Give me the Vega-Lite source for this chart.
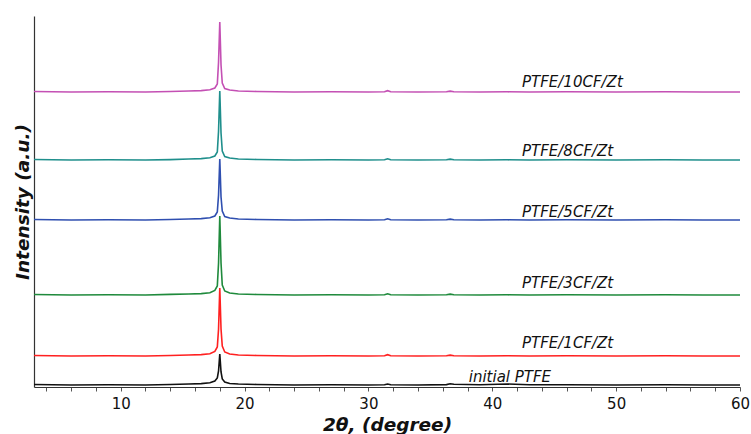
{
  "$schema": "https://vega.github.io/schema/vega-lite/v6.json",
  "width": 706,
  "height": 371,
  "autosize": {"type": "none"},
  "padding": {"left": 34, "top": 16, "right": 11, "bottom": 47},
  "background": "white",
  "config": {
    "view": {"stroke": null},
    "font": "DejaVu Sans"
  },
  "layer": [
    {
      "data": {
        "values": [
          {"t": 3, "initial PTFE": 2.5, "PTFE/1CF/Zt": 31.5, "PTFE/3CF/Zt": 92.5, "PTFE/5CF/Zt": 167.5, "PTFE/8CF/Zt": 227.5, "PTFE/10CF/Zt": 295.5},
          {"t": 6, "initial PTFE": 2, "PTFE/1CF/Zt": 31, "PTFE/3CF/Zt": 92, "PTFE/5CF/Zt": 167, "PTFE/8CF/Zt": 227, "PTFE/10CF/Zt": 295},
          {"t": 9, "initial PTFE": 2.3, "PTFE/1CF/Zt": 31.3, "PTFE/3CF/Zt": 92.2, "PTFE/5CF/Zt": 167.3, "PTFE/8CF/Zt": 227.2, "PTFE/10CF/Zt": 295.3},
          {"t": 12, "initial PTFE": 2, "PTFE/1CF/Zt": 31, "PTFE/3CF/Zt": 92, "PTFE/5CF/Zt": 167, "PTFE/8CF/Zt": 227, "PTFE/10CF/Zt": 295},
          {"t": 14, "initial PTFE": 2.5, "PTFE/1CF/Zt": 31.5, "PTFE/3CF/Zt": 92.6, "PTFE/5CF/Zt": 167.5, "PTFE/8CF/Zt": 227.4, "PTFE/10CF/Zt": 295.5},
          {"t": 15.5, "initial PTFE": 3, "PTFE/1CF/Zt": 32, "PTFE/3CF/Zt": 93, "PTFE/5CF/Zt": 168, "PTFE/8CF/Zt": 228, "PTFE/10CF/Zt": 296},
          {"t": 16.5, "initial PTFE": 3.4, "PTFE/1CF/Zt": 32.4, "PTFE/3CF/Zt": 93.4, "PTFE/5CF/Zt": 168.4, "PTFE/8CF/Zt": 228.4, "PTFE/10CF/Zt": 296.4},
          {"t": 17.2, "initial PTFE": 4.2, "PTFE/1CF/Zt": 33.2, "PTFE/3CF/Zt": 94.2, "PTFE/5CF/Zt": 169.2, "PTFE/8CF/Zt": 229.2, "PTFE/10CF/Zt": 297.2},
          {"t": 17.6, "initial PTFE": 6, "PTFE/1CF/Zt": 35.5, "PTFE/3CF/Zt": 96.5, "PTFE/5CF/Zt": 171, "PTFE/8CF/Zt": 231, "PTFE/10CF/Zt": 299},
          {"t": 17.8, "initial PTFE": 9, "PTFE/1CF/Zt": 40, "PTFE/3CF/Zt": 101, "PTFE/5CF/Zt": 175, "PTFE/8CF/Zt": 235, "PTFE/10CF/Zt": 303},
          {"t": 17.9, "initial PTFE": 16, "PTFE/1CF/Zt": 58, "PTFE/3CF/Zt": 124, "PTFE/5CF/Zt": 192, "PTFE/8CF/Zt": 256, "PTFE/10CF/Zt": 325},
          {"t": 18.0, "initial PTFE": 33, "PTFE/1CF/Zt": 99, "PTFE/3CF/Zt": 171, "PTFE/5CF/Zt": 228, "PTFE/8CF/Zt": 296, "PTFE/10CF/Zt": 365},
          {"t": 18.1, "initial PTFE": 15, "PTFE/1CF/Zt": 58, "PTFE/3CF/Zt": 124, "PTFE/5CF/Zt": 190, "PTFE/8CF/Zt": 254, "PTFE/10CF/Zt": 322},
          {"t": 18.2, "initial PTFE": 8, "PTFE/1CF/Zt": 41, "PTFE/3CF/Zt": 102, "PTFE/5CF/Zt": 176, "PTFE/8CF/Zt": 236, "PTFE/10CF/Zt": 304},
          {"t": 18.4, "initial PTFE": 5, "PTFE/1CF/Zt": 35, "PTFE/3CF/Zt": 96, "PTFE/5CF/Zt": 170.5, "PTFE/8CF/Zt": 230.5, "PTFE/10CF/Zt": 298.5},
          {"t": 18.8, "initial PTFE": 3.5, "PTFE/1CF/Zt": 33, "PTFE/3CF/Zt": 94, "PTFE/5CF/Zt": 169, "PTFE/8CF/Zt": 229, "PTFE/10CF/Zt": 297},
          {"t": 19.5, "initial PTFE": 3, "PTFE/1CF/Zt": 32, "PTFE/3CF/Zt": 93, "PTFE/5CF/Zt": 168, "PTFE/8CF/Zt": 228, "PTFE/10CF/Zt": 296},
          {"t": 21, "initial PTFE": 2.5, "PTFE/1CF/Zt": 31.5, "PTFE/3CF/Zt": 92.5, "PTFE/5CF/Zt": 167.5, "PTFE/8CF/Zt": 227.5, "PTFE/10CF/Zt": 295.5},
          {"t": 24, "initial PTFE": 2, "PTFE/1CF/Zt": 31, "PTFE/3CF/Zt": 92, "PTFE/5CF/Zt": 167, "PTFE/8CF/Zt": 227, "PTFE/10CF/Zt": 295},
          {"t": 27, "initial PTFE": 2.3, "PTFE/1CF/Zt": 31.3, "PTFE/3CF/Zt": 92.3, "PTFE/5CF/Zt": 167.3, "PTFE/8CF/Zt": 227.3, "PTFE/10CF/Zt": 295.3},
          {"t": 30, "initial PTFE": 2, "PTFE/1CF/Zt": 31, "PTFE/3CF/Zt": 92, "PTFE/5CF/Zt": 167, "PTFE/8CF/Zt": 227, "PTFE/10CF/Zt": 295},
          {"t": 31.3, "initial PTFE": 2.2, "PTFE/1CF/Zt": 31.2, "PTFE/3CF/Zt": 92.2, "PTFE/5CF/Zt": 167.2, "PTFE/8CF/Zt": 227.2, "PTFE/10CF/Zt": 295.2},
          {"t": 31.55, "initial PTFE": 3, "PTFE/1CF/Zt": 32.3, "PTFE/3CF/Zt": 93.2, "PTFE/5CF/Zt": 168.2, "PTFE/8CF/Zt": 228.2, "PTFE/10CF/Zt": 296.3},
          {"t": 31.8, "initial PTFE": 2.2, "PTFE/1CF/Zt": 31.2, "PTFE/3CF/Zt": 92.2, "PTFE/5CF/Zt": 167.2, "PTFE/8CF/Zt": 227.2, "PTFE/10CF/Zt": 295.2},
          {"t": 34, "initial PTFE": 2, "PTFE/1CF/Zt": 31, "PTFE/3CF/Zt": 92, "PTFE/5CF/Zt": 167, "PTFE/8CF/Zt": 227, "PTFE/10CF/Zt": 295},
          {"t": 36.3, "initial PTFE": 2.4, "PTFE/1CF/Zt": 31.3, "PTFE/3CF/Zt": 92.3, "PTFE/5CF/Zt": 167.3, "PTFE/8CF/Zt": 227.3, "PTFE/10CF/Zt": 295.3},
          {"t": 36.6, "initial PTFE": 3.2, "PTFE/1CF/Zt": 31.9, "PTFE/3CF/Zt": 92.9, "PTFE/5CF/Zt": 167.9, "PTFE/8CF/Zt": 227.9, "PTFE/10CF/Zt": 295.9},
          {"t": 36.9, "initial PTFE": 2.8, "PTFE/1CF/Zt": 31.3, "PTFE/3CF/Zt": 92.3, "PTFE/5CF/Zt": 167.3, "PTFE/8CF/Zt": 227.3, "PTFE/10CF/Zt": 295.3},
          {"t": 39, "initial PTFE": 2.3, "PTFE/1CF/Zt": 31, "PTFE/3CF/Zt": 92, "PTFE/5CF/Zt": 167, "PTFE/8CF/Zt": 227, "PTFE/10CF/Zt": 295},
          {"t": 41.2, "initial PTFE": 3, "PTFE/1CF/Zt": 31.3, "PTFE/3CF/Zt": 92.2, "PTFE/5CF/Zt": 167.2, "PTFE/8CF/Zt": 227.2, "PTFE/10CF/Zt": 295.2},
          {"t": 43, "initial PTFE": 2.2, "PTFE/1CF/Zt": 31, "PTFE/3CF/Zt": 92, "PTFE/5CF/Zt": 167, "PTFE/8CF/Zt": 227, "PTFE/10CF/Zt": 295},
          {"t": 46, "initial PTFE": 2.3, "PTFE/1CF/Zt": 31.3, "PTFE/3CF/Zt": 92.3, "PTFE/5CF/Zt": 167.2, "PTFE/8CF/Zt": 227.3, "PTFE/10CF/Zt": 295.2},
          {"t": 50, "initial PTFE": 2, "PTFE/1CF/Zt": 31, "PTFE/3CF/Zt": 92, "PTFE/5CF/Zt": 167, "PTFE/8CF/Zt": 227, "PTFE/10CF/Zt": 295},
          {"t": 54, "initial PTFE": 2.2, "PTFE/1CF/Zt": 31.2, "PTFE/3CF/Zt": 92.2, "PTFE/5CF/Zt": 167.2, "PTFE/8CF/Zt": 227.2, "PTFE/10CF/Zt": 295.2},
          {"t": 57, "initial PTFE": 2, "PTFE/1CF/Zt": 31, "PTFE/3CF/Zt": 92, "PTFE/5CF/Zt": 167, "PTFE/8CF/Zt": 227, "PTFE/10CF/Zt": 295},
          {"t": 60, "initial PTFE": 2, "PTFE/1CF/Zt": 31, "PTFE/3CF/Zt": 92, "PTFE/5CF/Zt": 167, "PTFE/8CF/Zt": 227, "PTFE/10CF/Zt": 295}
        ]
      },
      "transform": [
        {"fold": ["initial PTFE", "PTFE/1CF/Zt", "PTFE/3CF/Zt", "PTFE/5CF/Zt", "PTFE/8CF/Zt", "PTFE/10CF/Zt"], "as": ["sample", "intensity"]}
      ],
      "mark": {"type": "line", "strokeWidth": 1.6, "interpolate": "linear"},
      "encoding": {
        "x": {
          "field": "t", "type": "quantitative",
          "scale": {"domain": [3, 60], "nice": false, "zero": false},
          "axis": {
            "title": "2θ, (degree)",
            "titleFont": "DejaVu Sans", "titleFontSize": 18.5, "titleFontWeight": "bold", "titleFontStyle": "italic",
            "titleColor": "#111", "titlePadding": 4,
            "values": [4, 6, 8, 10, 12, 14, 16, 18, 20, 22, 24, 26, 28, 30, 32, 34, 36, 38, 40, 42, 44, 46, 48, 50, 52, 54, 56, 58, 60],
            "tickCount": 100,
            "format": "d",
            "labelExpr": "datum.value % 10 === 0 ? datum.label : ''",
            "labelFont": "DejaVu Sans", "labelFontSize": 15, "labelColor": "#111", "labelPadding": 5,
            "labelOverlap": false, "labelFlush": false,
            "grid": false, "domainColor": "#333", "domainWidth": 1.2,
            "tickColor": "#555", "tickSize": 4, "tickWidth": 1
          }
        },
        "y": {
          "field": "intensity", "type": "quantitative",
          "scale": {"domain": [0, 371], "nice": false, "zero": false},
          "axis": {
            "title": "Intensity (a.u.)",
            "titleFont": "DejaVu Sans", "titleFontSize": 18.5, "titleFontWeight": "bold", "titleFontStyle": "italic",
            "titleColor": "#111", "titlePadding": 2,
            "labels": false, "ticks": false, "grid": false,
            "domainColor": "#333", "domainWidth": 1.2
          }
        },
        "color": {
          "field": "sample", "type": "nominal",
          "scale": {
            "domain": ["initial PTFE", "PTFE/1CF/Zt", "PTFE/3CF/Zt", "PTFE/5CF/Zt", "PTFE/8CF/Zt", "PTFE/10CF/Zt"],
            "range": ["#111111", "#ff2020", "#1f8a3c", "#2f4fb0", "#1f8f8c", "#c450b4"]
          },
          "legend": null
        }
      }
    },
    {
      "data": {
        "values": [
          {"label": "initial PTFE", "t": 38.1, "y": 10},
          {"label": "PTFE/1CF/Zt", "t": 42.4, "y": 44},
          {"label": "PTFE/3CF/Zt", "t": 42.4, "y": 104},
          {"label": "PTFE/5CF/Zt", "t": 42.4, "y": 175},
          {"label": "PTFE/8CF/Zt", "t": 42.4, "y": 236},
          {"label": "PTFE/10CF/Zt", "t": 42.4, "y": 305}
        ]
      },
      "mark": {"type": "text", "align": "left", "baseline": "middle", "font": "DejaVu Sans", "fontSize": 15, "fontStyle": "italic", "color": "#111"},
      "encoding": {
        "x": {"field": "t", "type": "quantitative"},
        "y": {"field": "y", "type": "quantitative"},
        "text": {"field": "label"}
      }
    }
  ]
}
